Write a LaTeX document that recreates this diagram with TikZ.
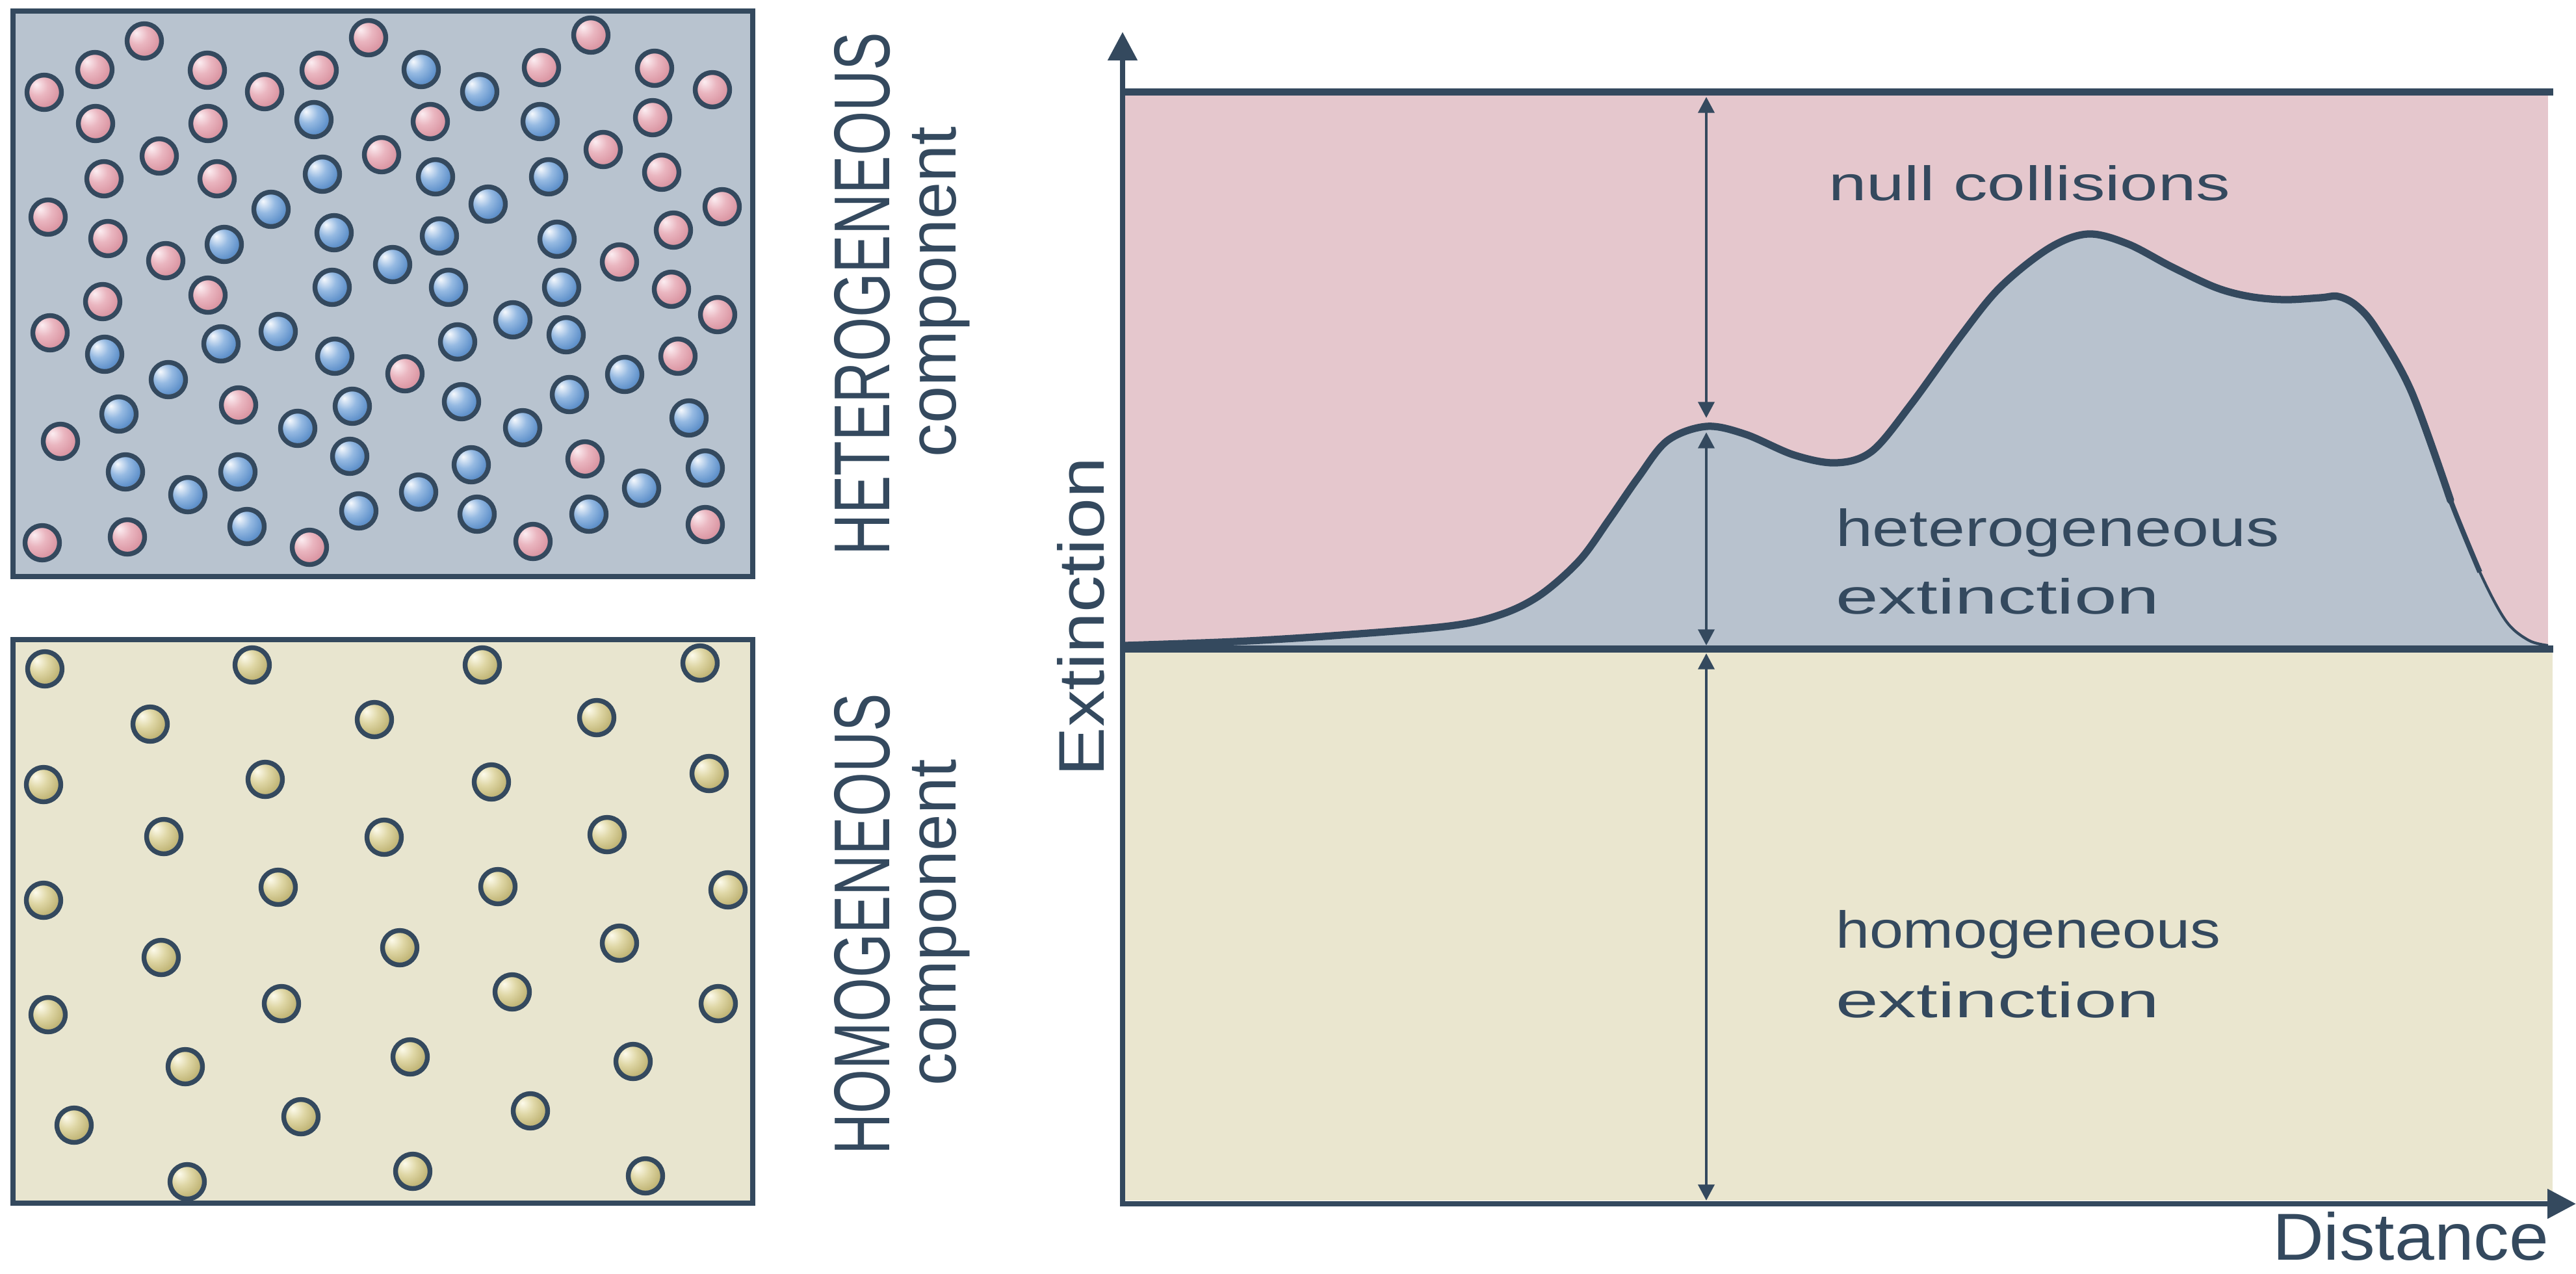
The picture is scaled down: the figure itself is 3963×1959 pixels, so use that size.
\documentclass[tikz,border=0pt]{standalone}
\usepackage{fontspec}
\setmainfont{Liberation Sans}
\usepackage{graphicx}
\usetikzlibrary{arrows.meta}

\definecolor{ink}{RGB}{52,73,94}
\definecolor{pinkbg}{RGB}{229,199,205}
\definecolor{bluebg}{RGB}{184,194,206}
\definecolor{sandbg}{RGB}{234,230,207}
\definecolor{boxblue}{RGB}{184,195,207}
\definecolor{boxsand}{RGB}{232,229,207}

\definecolor{pkhi}{RGB}{252,238,242}
\definecolor{pkmid}{RGB}{234,182,192}
\definecolor{pklo}{RGB}{203,118,134}
\definecolor{blhi}{RGB}{246,249,253}
\definecolor{blmid}{RGB}{150,186,226}
\definecolor{bllo}{RGB}{38,102,178}
\definecolor{ylhi}{RGB}{253,251,236}
\definecolor{ylmid}{RGB}{223,215,166}
\definecolor{yllo}{RGB}{163,148,72}

\pgfdeclareradialshading{pinkball}{\pgfpoint{-12bp}{12bp}}{color(0bp)=(pkhi); color(16bp)=(pkmid); color(48bp)=(pklo); color(70bp)=(pklo)}
\pgfdeclareradialshading{blueball}{\pgfpoint{-12bp}{12bp}}{color(0bp)=(blhi); color(16bp)=(blmid); color(48bp)=(bllo); color(70bp)=(bllo)}
\pgfdeclareradialshading{sandball}{\pgfpoint{-12bp}{12bp}}{color(0bp)=(ylhi); color(16bp)=(ylmid); color(48bp)=(yllo); color(70bp)=(yllo)}

\tikzset{
  frame/.style={draw=ink, line width=2.3pt},
  band/.style={draw=ink, line width=3.1pt},
  axisline/.style={draw=ink, line width=2.4pt, -{Triangle[width=12.5pt,length=12.5pt]}},
  gauge/.style={draw=ink, line width=1.4pt, {Triangle[width=7pt,length=7pt]}-{Triangle[width=7pt,length=7pt]}},
  rim/.style={draw=ink, line width=2.1pt},
  lbl/.style={inner sep=0pt, outer sep=0pt, text=ink},
}

% one shaded particle with its dark rim
\newcommand\particle[3]{%
  \shade[shading=#1] (#2,#3) circle (0.24cm);
  \draw[rim] (#2+1,#3+1) circle (0.265cm);
}

\begin{document}
\begin{tikzpicture}[x=0.01cm, y=-0.01cm]
\fill[white] (0,0) rectangle (3963,1959);
\useasboundingbox (0,0) rectangle (3963,1959);

% ---------- heterogeneous medium ----------
\filldraw[frame, fill=boxblue] (20,17) rectangle (1158,887);
\foreach \px/\py in {221/62, 566/57, 908/53, 145/106, 318/107, 490/107, 832/103, 1006/104,
  67/141, 406/140, 1095/137, 146/189, 319/189, 661/186, 1003/180, 244/239, 586/237, 927/229,
  159/274, 333/274, 1017/264, 73/333, 1110/317, 165/366, 1035/353, 254/400, 952/402, 157/463,
  319/453, 1032/444, 76/511, 1103/483, 1042/547, 622/574, 366/622, 92/678, 899/705, 1084/806,
  64/834, 195/825, 475/841, 819/832}
  {\particle{pinkball}{\px}{\py}}
\foreach \px/\py in {647/106, 737/140, 482/183, 830/186, 495/267, 669/271, 843/271, 416/321,
  750/313, 513/357, 344/375, 675/362, 856/367, 603/406, 510/441, 689/441, 863/441, 788/491,
  427/509, 339/528, 703/525, 870/514, 160/544, 514/547, 258/583, 960/575, 182/636, 541/624,
  709/617, 875/606, 457/658, 803/657, 1059/642, 537/701, 192/725, 365/725, 724/714, 1084/719,
  288/760, 643/756, 986/750, 551/785, 733/790, 905/790, 379/809}
  {\particle{blueball}{\px}{\py}}

% ---------- homogeneous medium ----------
\filldraw[frame, fill=boxsand] (20,984) rectangle (1158,1851);
\foreach \px/\py in {68/1028, 387/1022, 741/1022, 1076/1019, 230/1113, 575/1106, 917/1103,
  66/1206, 407/1198, 755/1202, 1090/1189, 251/1286, 590/1287, 933/1283, 66/1384, 427/1364,
  765/1363, 1119/1368, 247/1472, 614/1457, 952/1450, 73/1560, 432/1543, 787/1525, 1104/1543,
  284/1640, 630/1625, 973/1632, 113/1730, 462/1717, 815/1708, 287/1817, 634/1801, 992/1808}
  {\particle{sandball}{\px}{\py}}

% ---------- side captions ----------
\node[lbl, rotate=90, anchor=base] (heteroCap) at (1368,452) {\resizebox{8.04cm}{0.85cm}{HETEROGENEOUS}};
\node[lbl, rotate=90, anchor=base] (heteroSub) at (1470,449) {\resizebox{5.08cm}{0.67cm}{component}};
\node[lbl, rotate=90, anchor=base] (homoCap) at (1368,1422) {\resizebox{7.09cm}{0.85cm}{HOMOGENEOUS}};
\node[lbl, rotate=90, anchor=base] (homoSub) at (1470,1419) {\resizebox{5.02cm}{0.67cm}{component}};

% ---------- extinction plot ----------
\fill[pinkbg] (1731,147) rectangle (3920,993);
\fill[bluebg] plot[smooth, tension=0.55] coordinates {
  (1731,993) (1900,987) (2050,978) (2230,963) (2310,945) (2370,915) (2430,862) (2475,800)
  (2520,735) (2565,678) (2625,656) (2685,668) (2760,700) (2825,712) (2880,694) (2940,622)
  (3017,516) (3077,442) (3152,382) (3212,360) (3273,375) (3340,410) (3408,442) (3460,456)
  (3514,461) (3570,458) (3597,456) (3625,470) (3655,505) (3710,603) (3770,770) (3815,880)
  (3855,955) (3890,985) (3920,993)} -- (1731,993) -- cycle;
\fill[sandbg] (1731,1004) rectangle (3927,1847);

% main stroke of the heterogeneous curve
\draw[ink, line width=3.2pt, line cap=round] plot[smooth, tension=0.55] coordinates {
  (1731,993) (1900,987) (2050,978) (2230,963) (2310,945) (2370,915) (2430,862) (2475,800)
  (2520,735) (2565,678) (2625,656) (2685,668) (2760,700) (2825,712) (2880,694) (2940,622)
  (3017,516) (3077,442) (3152,382) (3212,360) (3273,375) (3340,410) (3408,442) (3460,456)
  (3514,461) (3570,458) (3597,456) (3625,470) (3655,505) (3710,603) (3770,770)};
% thinning tail down to the baseline
\draw[ink, line width=2.2pt] plot[smooth, tension=0.55] coordinates {
  (3710,603) (3770,770) (3815,880)};
\draw[ink, line width=1.2pt] plot[smooth, tension=0.55] coordinates {
  (3770,770) (3815,880) (3855,955) (3890,985) (3920,993)};

\coordinate (topL) at (1731,141.5);
\coordinate (topR) at (3928,141.5);
\coordinate (midL) at (1731,998.5);
\coordinate (midR) at (3928,998.5);
\draw[band] (topL) -- (topR);
\draw[band] (midL) -- (midR);

\coordinate (origin) at (1727,1852);
\coordinate (yTip) at (1727,49);
\coordinate (xTip) at (3963,1852);
\draw[axisline] ([yshift=-1.2pt]origin) -- (yTip);
\draw[axisline] ([xshift=-1.2pt]origin) -- (xTip);

\coordinate (g1) at (2625,149);
\coordinate (g2) at (2625,643);
\coordinate (g3) at (2625,665);
\coordinate (g4) at (2625,993);
\coordinate (g5) at (2625,1005);
\coordinate (g6) at (2625,1847);
\draw[gauge] (g1) -- (g2);
\draw[gauge] (g3) -- (g4);
\draw[gauge] (g5) -- (g6);

\node[lbl, anchor=base west] (nullLbl) at (2813,308) {\resizebox{6.18cm}{0.54cm}{null collisions}};
\node[lbl, anchor=base west] (hetLbl) at (2824,840) {\resizebox{6.82cm}{0.58cm}{heterogeneous}};
\node[lbl, anchor=base west] (hetExt) at (2824,944) {\resizebox{4.98cm}{0.55cm}{extinction}};
\node[lbl, anchor=base west] (homLbl) at (2824,1458) {\resizebox{5.92cm}{0.58cm}{homogeneous}};
\node[lbl, anchor=base west] (homExt) at (2824,1565) {\resizebox{4.98cm}{0.55cm}{extinction}};

\node[lbl, rotate=90, anchor=base] (yLbl) at (1698,949) {\resizebox{4.9cm}{0.72cm}{Extinction}};
\node[lbl, anchor=base west] (xLbl) at (3496,1938) {\resizebox{4.25cm}{0.74cm}{Distance}};
\end{tikzpicture}
\end{document}
